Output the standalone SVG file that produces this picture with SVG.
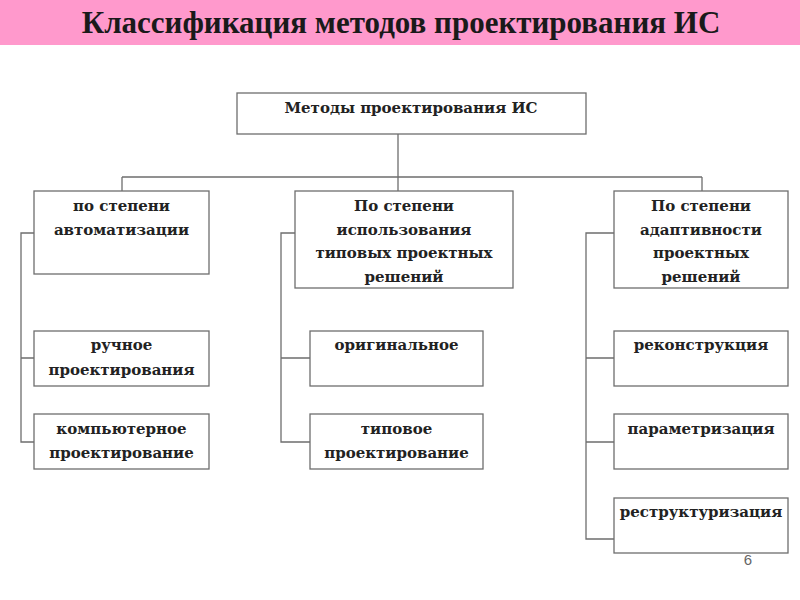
<svg xmlns="http://www.w3.org/2000/svg" width="800" height="600" viewBox="0 0 800 600">
<style>
.box{fill:#fff;stroke:#6e6e6e;stroke-width:1.3}
.t{font-family:"DejaVu Serif","Liberation Serif",serif;font-weight:bold;font-size:15px;fill:#222;text-anchor:middle}
.ln{fill:none;stroke:#6e6e6e;stroke-width:1.3}
</style>
<rect x="0" y="0" width="800" height="45" fill="#ff99cc"/>
<text x="401" y="33" font-family="Liberation Serif,serif" font-weight="bold" font-size="31" fill="#1a1a1a" text-anchor="middle">Классификация методов проектирования ИС</text>
<g id="connectors" class="ln">
<path d="M398 134V177M122 177H702M122 177V191M398 177V191M702 177V191"/>
<path d="M34 233H21V442H34M21 358H34"/>
<path d="M295 233H281V442H310M281 358H310"/>
<path d="M614 233H586V539H614M586 358H614M586 442H614"/>
</g>
<g id="root"><rect class="box" x="237" y="93" width="349" height="41"/><text class="t" x="411" y="113">Методы проектирования ИС</text></g>
<g id="auto"><rect class="box" x="34" y="191" width="175" height="83"/><text class="t" x="121.5" y="211">по степени</text><text class="t" x="121.5" y="235">автоматизации</text></g>
<g id="typical"><rect class="box" x="295" y="191" width="218" height="97"/><text class="t" x="404" y="211">По степени</text><text class="t" x="404" y="235">использования</text><text class="t" x="404" y="258">типовых проектных</text><text class="t" x="404" y="282">решений</text></g>
<g id="adapt"><rect class="box" x="614" y="191" width="174" height="97"/><text class="t" x="701" y="211">По степени</text><text class="t" x="701" y="235">адаптивности</text><text class="t" x="701" y="258">проектных</text><text class="t" x="701" y="282">решений</text></g>
<g id="manual"><rect class="box" x="34" y="331" width="175" height="55"/><text class="t" x="121.5" y="350">ручное</text><text class="t" x="121.5" y="375">проектирования</text></g>
<g id="computer"><rect class="box" x="34" y="414" width="175" height="55"/><text class="t" x="121.5" y="434">компьютерное</text><text class="t" x="121.5" y="458">проектирование</text></g>
<g id="original"><rect class="box" x="310" y="331" width="173" height="55"/><text class="t" x="396.5" y="350">оригинальное</text></g>
<g id="typ"><rect class="box" x="310" y="414" width="173" height="55"/><text class="t" x="396.5" y="434">типовое</text><text class="t" x="396.5" y="458">проектирование</text></g>
<g id="recon"><rect class="box" x="614" y="331" width="174" height="55"/><text class="t" x="701" y="350">реконструкция</text></g>
<g id="param"><rect class="box" x="614" y="414" width="174" height="55"/><text class="t" x="701" y="434">параметризация</text></g>
<g id="restr"><rect class="box" x="614" y="498" width="174" height="55"/><text class="t" x="701" y="517">реструктуризация</text></g>
<text x="748" y="565" font-family="Liberation Sans,sans-serif" font-size="15" fill="#666" text-anchor="middle">6</text>
</svg>
